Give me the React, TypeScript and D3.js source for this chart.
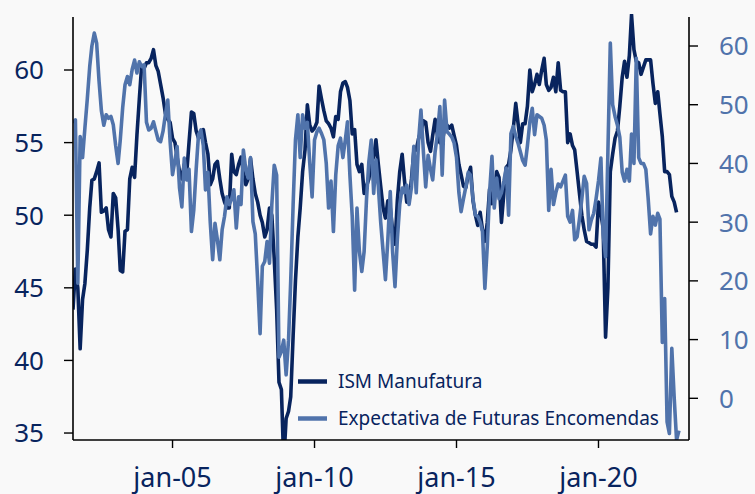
import React from "react";
import * as d3 from "d3";

const START_YEAR = 2001;
const START_MONTH = 6; // July (0-based)

const ismValues: number[] = [
  // 2001 Jul-Dec
  43.5, 46.3, 45.0, 40.8, 44.2, 45.3,
  // 2002
  47.6, 50.5, 52.4, 52.5, 53.0, 53.6, 50.2, 50.3, 50.5, 49.0, 48.5, 51.5,
  // 2003
  51.2, 49.0, 46.2, 46.1, 48.9, 49.0, 52.5, 53.3, 52.6, 55.5, 58.0, 60.3,
  // 2004
  60.1, 60.5, 60.5, 60.8, 61.4, 60.3, 59.9, 59.0, 58.1, 57.0, 56.6, 56.4,
  // 2005
  55.3, 55.0, 54.0, 53.0, 52.5, 53.5, 52.8, 55.0, 57.1, 57.0, 55.8, 55.3,
  // 2006
  55.5, 55.9, 55.0, 54.2, 52.1, 52.5, 53.5, 53.7, 52.5, 51.5, 50.9, 50.5,
  // 2007
  50.5, 54.2, 53.0, 52.8, 53.5, 54.0, 53.0, 52.1, 52.5, 53.9, 52.5, 51.5,
  // 2008
  50.9, 50.0, 49.5, 48.5, 49.0, 50.5, 50.0, 47.0, 43.5, 38.5, 38.0, 33.0,
  // 2009
  36.0, 36.5, 37.5, 41.7, 45.5, 48.5, 50.5, 53.0, 54.5, 57.6, 56.2, 55.8,
  // 2010
  56.0, 56.4, 58.9, 58.0, 57.2, 56.5, 56.3, 56.0, 55.4, 56.8, 56.6, 58.5,
  // 2011
  59.1, 59.2, 58.8, 57.9, 55.6, 55.9, 53.5, 53.0, 53.5, 51.5, 52.0, 52.5,
  // 2012
  53.7, 54.0, 55.2, 53.5, 52.0, 50.5, 49.8, 51.0, 50.5, 49.0, 48.0, 51.0,
  // 2013
  53.0, 54.2, 52.5, 50.9, 51.0, 52.5, 54.4, 54.5, 55.3, 55.8, 56.5, 56.4,
  // 2014
  55.0, 54.4, 55.5, 56.6, 55.5, 55.0, 55.0, 56.0, 56.2, 56.0, 56.2, 55.5,
  // 2015
  54.8, 53.5, 52.8, 52.0, 51.9, 52.8, 53.3, 51.0, 50.0, 49.3, 50.2, 49.0,
  // 2016
  48.2, 49.5, 51.8, 50.8, 51.3, 53.0, 52.6, 49.5, 51.5, 53.3, 53.5, 54.5,
  // 2017
  56.0, 57.7, 56.4, 55.0, 56.3, 56.3, 57.5, 60.0, 58.5, 59.0, 59.7, 59.0,
  // 2018
  60.0, 60.8, 59.0, 58.6, 58.8, 59.5, 58.5, 60.5, 58.6, 58.5, 58.5, 55.0,
  // 2019
  55.6, 54.8, 54.5, 53.0, 51.5, 50.0, 49.0, 48.2, 48.1, 48.0, 48.0, 47.8,
  // 2020
  50.9, 50.1, 49.1, 41.6, 45.0, 53.0, 54.2, 55.3, 55.8, 57.5, 59.5, 60.6,
  // 2021
  59.5, 61.0, 63.8, 61.4, 60.6, 60.5, 59.7, 60.2, 60.7, 60.7, 60.7, 59.1,
  // 2022 Jan-Oct
  57.7, 58.5, 57.0, 55.4, 53.0, 53.0, 52.8, 51.3, 50.9, 50.2,
];

const ordersValues: number[] = [
  // 2001 Jul-Dec
  46.9, 47.4, 19.6, 44.6, 41.0, 46.0,
  // 2002
  51.0, 56.5, 60.0, 62.2, 60.5, 54.0, 49.0, 46.5, 48.3, 47.7, 48.0, 46.6,
  // 2003
  43.0, 40.0, 44.0, 49.5, 53.4, 54.8, 53.4, 56.0, 57.6, 55.4, 57.3, 56.5,
  // 2004
  56.8, 47.0, 45.7, 46.0, 47.1, 45.5, 44.0, 43.7, 45.5, 48.3, 50.8, 43.7,
  // 2005
  38.1, 40.5, 42.9, 35.8, 32.6, 40.9, 37.2, 39.0, 28.4, 32.0, 39.0, 44.9,
  // 2006
  45.7, 43.0, 35.5, 38.5, 30.0, 23.6, 29.8, 27.0, 23.6, 28.7, 31.0, 34.3,
  // 2007
  33.0, 34.0, 35.5, 29.0, 34.3, 33.0, 42.3, 39.0, 37.5, 41.0, 30.1, 28.0,
  // 2008
  20.0, 11.0, 22.5, 23.3, 26.7, 23.0, 33.0, 39.7, 38.0, 7.0, 8.0, 9.9,
  // 2009
  4.0, 9.9, 20.0, 33.0, 44.0, 48.3, 41.0, 48.3, 46.0, 47.0, 40.0, 34.3,
  // 2010
  44.0, 45.4, 46.0, 45.1, 44.0, 40.0, 32.4, 37.0, 28.4, 38.0, 43.0, 44.3,
  // 2011
  41.0, 44.0, 47.1, 38.0, 31.0, 18.4, 32.4, 25.0, 21.6, 25.0, 34.0, 40.3,
  // 2012
  44.0, 34.9, 40.6, 36.0, 30.0, 25.0, 20.2, 27.0, 35.2, 25.0, 19.0, 27.0,
  // 2013
  33.0, 35.8, 35.0, 36.3, 33.0, 36.0, 42.9, 35.0, 44.0, 49.1, 42.0, 36.0,
  // 2014
  41.4, 39.0, 37.2, 42.0, 45.0, 49.7, 38.0, 50.8, 45.4, 45.0, 44.5, 43.5,
  // 2015
  41.0, 35.0, 31.8, 34.0, 36.0, 38.5, 38.0, 34.0, 31.2, 31.0, 30.0, 28.4,
  // 2016
  18.7, 26.0, 35.0, 41.2, 32.4, 37.5, 34.0, 35.0, 37.0, 39.2, 31.2, 45.1,
  // 2017
  46.3, 44.6, 43.5, 42.0, 40.5, 39.7, 43.0, 47.0, 49.4, 44.9, 48.3, 48.0,
  // 2018
  47.7, 46.5, 44.0, 32.0, 39.0, 33.0, 35.0, 36.5, 36.0, 37.0, 38.0, 31.0,
  // 2019
  30.0, 32.0, 27.0, 27.5, 30.5, 34.0, 37.8, 36.6, 28.7, 30.4, 31.5, 34.0,
  // 2020
  37.0, 40.9, 28.0, 24.1, 42.0, 60.5, 50.0, 48.0, 46.5, 44.5, 38.5, 37.0,
  // 2021
  39.0, 37.0, 45.0, 40.0, 57.9, 41.0, 40.0, 40.0, 39.0, 34.0, 28.0, 31.0,
  // 2022 Jan-Nov
  29.5, 31.5, 30.5, 9.5, 17.0, -4.0, -6.0, 8.5, 0.0, -7.1, -5.5,
];

const leftTicks = [35, 40, 45, 50, 55, 60];
const rightTicks = [0, 10, 20, 30, 40, 50, 60];
const xTickYears = [2005, 2010, 2015, 2020];
const seriesNames = ["ISM Manufatura", "Expectativa de Futuras Encomendas"];

const W = 755;
const H = 494;
const M = { left: 73, right: 689, top: 17, bottom: 440 };
const DARK = "#08245e";
const LIGHT = "#5073ab";
const FONT = "'Noto Sans', sans-serif";

const monthDate = (i: number) => new Date(START_YEAR, START_MONTH + i, 1);

export default function App() {
  const x = d3
    .scaleTime()
    .domain([new Date(2001, 6, 1), new Date(2023, 2, 10)])
    .range([M.left, M.right]);
  const yL = d3.scaleLinear().domain([34.52, 63.65]).range([M.bottom, M.top]);
  const yR = d3.scaleLinear().domain([-7.1, 64.94]).range([M.bottom, M.top]);

  const ismLine = d3
    .line<number>()
    .x((_, i) => x(monthDate(i)))
    .y((d) => yL(d));
  const ordLine = d3
    .line<number>()
    .x((_, i) => x(monthDate(i)))
    .y((d) => yR(d));

  const legendX = 298;
  const legendY = [381.5, 418.5];

  return (
    <div style={{ position: "fixed", left: 0, top: 0, width: W, height: H }}>
      <svg width={W} height={H} style={{ display: "block" }}>
        <rect x={0} y={0} width={W} height={H} fill="#f9f9f9" />
        <defs>
          <clipPath id="plotClip">
            <rect x={M.left} y={14} width={M.right - M.left} height={M.bottom - 14} />
          </clipPath>
        </defs>
        <g clipPath="url(#plotClip)" fill="none" strokeLinejoin="round">
          <path d={ismLine(ismValues) || ""} stroke={DARK} strokeWidth={3.6} />
          <path d={ordLine(ordersValues) || ""} stroke={LIGHT} strokeWidth={3.6} />
        </g>

        {/* axes */}
        <g stroke="#000" strokeWidth={1.6}>
          <line x1={M.left} x2={M.left} y1={M.top} y2={M.bottom} />
          <line x1={M.right} x2={M.right} y1={M.top} y2={M.bottom} />
          <line x1={M.left} x2={M.right} y1={M.bottom} y2={M.bottom} />
        </g>
        {leftTicks.map((t) => (
          <g key={"l" + t}>
            <line x1={M.left - 9} x2={M.left} y1={yL(t)} y2={yL(t)} stroke="#000" strokeWidth={1.4} />
            <text
              x={44}
              y={yL(t)}
              dy="0.36em"
              textAnchor="end"
              fontFamily={FONT}
              fontSize={26}
              fill={DARK}
            >
              {t}
            </text>
          </g>
        ))}
        {rightTicks.map((t) => (
          <g key={"r" + t}>
            <line x1={M.right} x2={M.right + 9} y1={yR(t)} y2={yR(t)} stroke="#000" strokeWidth={1.4} />
            <text
              x={719}
              y={yR(t)}
              dy="0.36em"
              textAnchor="start"
              fontFamily={FONT}
              fontSize={26}
              fill={LIGHT}
            >
              {t}
            </text>
          </g>
        ))}
        {xTickYears.map((yr) => {
          const xx = x(new Date(yr, 0, 1));
          return (
            <g key={"x" + yr}>
              <line x1={xx} x2={xx} y1={M.bottom} y2={M.bottom + 8} stroke="#000" strokeWidth={1.4} />
              <text
                x={xx}
                y={486.5}
                textAnchor="middle"
                fontFamily={FONT}
                fontSize={27}
                fill={DARK}
              >
                {"jan-" + String(yr % 100).padStart(2, "0")}
              </text>
            </g>
          );
        })}

        {/* legend */}
        {seriesNames.map((name, i) => (
          <g key={name}>
            <line
              x1={legendX}
              x2={legendX + 29}
              y1={legendY[i]}
              y2={legendY[i]}
              stroke={i === 0 ? DARK : LIGHT}
              strokeWidth={4.5}
            />
            <text
              x={338}
              y={legendY[i]}
              dy="0.35em"
              fontFamily={FONT}
              fontSize={19}
              fill={DARK}
            >
              {name}
            </text>
          </g>
        ))}
      </svg>
    </div>
  );
}
